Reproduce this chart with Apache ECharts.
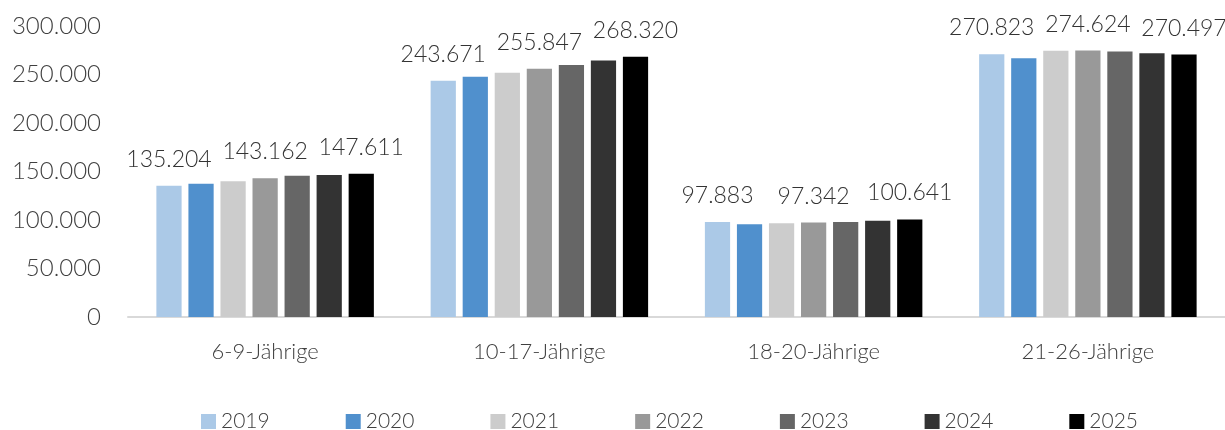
<!DOCTYPE html>
<html>
<head>
<meta charset="utf-8">
<script src="https://cdn.jsdelivr.net/npm/echarts@6/dist/echarts.min.js"></script>
<style>
html,body{margin:0;padding:0;background:#fff;}
#c{width:1225px;height:430px;}
</style>
</head>
<body>
<div id="c"></div>
<script>
const categories = ['6-9-Jährige', '10-17-Jährige', '18-20-Jährige', '21-26-Jährige'];
const years = ['2019', '2020', '2021', '2022', '2023', '2024', '2025'];
const v2019 = [135204, 243671, 97883, 270823];
const v2020 = [137300, 247800, 95500, 266700];
const v2021 = [140000, 251700, 96600, 274500];
const v2022 = [143162, 255847, 97342, 274624];
const v2023 = [145600, 259900, 98000, 273600];
const v2024 = [146300, 264400, 99100, 271900];
const v2025 = [147611, 268320, 100641, 270497];
const yTicks = [0, 50000, 100000, 150000, 200000, 250000, 300000];
const labeledYears = ['2019', '2022', '2025'];

const seriesValues = [v2019, v2020, v2021, v2022, v2023, v2024, v2025];
const colors = ['#abc9e7', '#5090cd', '#cccccc', '#999999', '#666666', '#333333', '#000000'];
const FONT = 'Lato, "Noto Sans", sans-serif';
const W = 300;

function fmt(v) {
  return String(Math.round(v)).replace(/\B(?=(\d{3})+(?!\d))/g, '.');
}

const chart = echarts.init(document.getElementById('c'));
chart.setOption({
  animation: false,
  textStyle: { fontFamily: FONT },
  grid: { left: 128, right: 0, top: 26, bottom: 113, containLabel: false },
  legend: {
    data: years,
    left: 196,
    top: 406,
    itemWidth: 15,
    itemHeight: 15,
    itemGap: 76,
    icon: 'rect',
    textStyle: { fontSize: 21, color: '#404040', fontFamily: FONT, fontWeight: W }
  },
  xAxis: {
    type: 'category',
    data: categories,
    axisLine: { lineStyle: { color: '#d9d9d9', width: 2 } },
    axisTick: { show: false },
    axisLabel: { fontSize: 22, color: '#404040', margin: 24, fontFamily: FONT, fontWeight: W }
  },
  yAxis: {
    type: 'value',
    min: yTicks[0],
    max: yTicks[yTicks.length - 1],
    interval: yTicks[1] - yTicks[0],
    splitLine: { show: false },
    axisLine: { show: false },
    axisTick: { show: false },
    axisLabel: { fontSize: 24, color: '#404040', margin: 27, formatter: fmt, fontFamily: FONT, fontWeight: W }
  },
  series: years.map((y, i) => ({
    name: y,
    type: 'bar',
    data: seriesValues[i],
    barWidth: '9.2%',
    barGap: '27%',
    itemStyle: { color: colors[i] },
    label: {
      show: labeledYears.includes(y),
      position: 'top',
      distance: 15,
      fontSize: 23,
      color: '#333333',
      fontFamily: FONT,
      fontWeight: W,
      formatter: p => fmt(p.value)
    }
  }))
});
</script>
</body>
</html>
